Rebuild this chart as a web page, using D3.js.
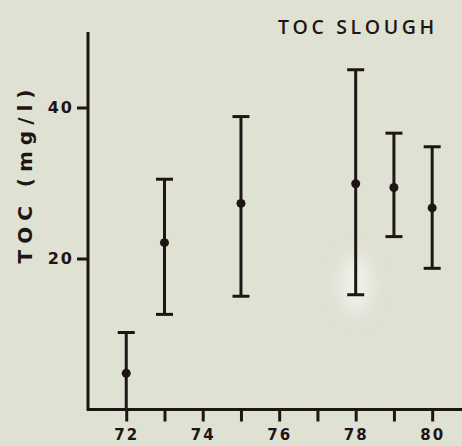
<!DOCTYPE html>
<html>
<head>
<meta charset="utf-8">
<script src="https://cdn.jsdelivr.net/npm/d3@7/dist/d3.min.js"></script>
<style>
  html, body { margin: 0; padding: 0; background: #dfe1d3; }
  svg { display: block; }
  text { font-family: "DejaVu Sans", sans-serif; fill: #1e1515; }
</style>
</head>
<body>
<svg id="chart" width="462" height="446"></svg>
<script>
// TOC at the slough, by year: mean with low/high range
const years = [72, 73, 75, 78, 79, 80];
const means = [4.8, 22.1, 27.3, 29.9, 29.4, 26.7];
const lows  = [0.0, 12.6, 15.0, 15.2, 22.9, 18.7];
const highs = [10.2, 30.5, 38.8, 45.0, 36.6, 34.8];

const xTicks = [72, 73, 74, 75, 76, 77, 78, 79, 80];
const xLabels = [72, 74, 76, 78, 80];
const yTicks = [20, 40];

const ink = "#1e1515";
const svg = d3.select("#chart");

const x = d3.scaleLinear().domain([71, 80.78]).range([88, 462]);
const y = d3.scaleLinear().domain([0, 50]).range([409.5, 32]);

// soft light patch on the paper near the 1978 bar
const defs = svg.append("defs");
defs.append("filter").attr("id", "soft")
  .attr("x", "-50%").attr("y", "-50%").attr("width", "200%").attr("height", "200%")
  .append("feGaussianBlur").attr("stdDeviation", 8);
svg.append("ellipse")
  .attr("cx", x(78)).attr("cy", y(16.5)).attr("rx", 16).attr("ry", 30)
  .attr("fill", "#f2f3ec").attr("opacity", 0.85).attr("filter", "url(#soft)");

// axes
const xAxis = d3.axisBottom(x).tickValues(xTicks).tickSize(12).tickPadding(4)
  .tickFormat(d => xLabels.includes(d) ? d : "");
const gx = svg.append("g").attr("transform", `translate(0,${y(0)})`).call(xAxis);
gx.select(".domain").attr("d", `M${x.range()[0]},0H${x.range()[1] + 2}`)
  .attr("stroke", ink).attr("stroke-width", 3);
gx.selectAll(".tick line").attr("stroke", ink).attr("stroke-width", 3);
gx.selectAll(".tick text").attr("font-size", 15).attr("font-weight", "bold")
  .attr("letter-spacing", 2).attr("dy", "0.95em").style("fill", ink);

const yAxis = d3.axisLeft(y).tickValues(yTicks).tickSize(11).tickPadding(3);
const gy = svg.append("g").attr("transform", `translate(${x(71)},0)`).call(yAxis);
gy.select(".domain").attr("d", `M0,${y.range()[1]}V${y.range()[0] + 1.5}`)
  .attr("stroke", ink).attr("stroke-width", 3);
gy.selectAll(".tick line").attr("stroke", ink).attr("stroke-width", 3);
gy.selectAll(".tick text").attr("font-size", 16).attr("font-weight", "bold")
  .attr("letter-spacing", 2).style("fill", ink);

// error bars
const rows = years.map((yr, i) => ({ yr, m: means[i], lo: lows[i], hi: highs[i] }));
const bars = svg.append("g").selectAll("g").data(rows).join("g");
bars.append("line")
  .attr("x1", d => x(d.yr)).attr("x2", d => x(d.yr))
  .attr("y1", d => y(d.lo)).attr("y2", d => y(d.hi))
  .attr("stroke", ink).attr("stroke-width", 3);
const capW = 8.5;
bars.append("line")
  .attr("x1", d => x(d.yr) - capW).attr("x2", d => x(d.yr) + capW)
  .attr("y1", d => y(d.hi)).attr("y2", d => y(d.hi))
  .attr("stroke", ink).attr("stroke-width", 3);
bars.append("line")
  .attr("x1", d => x(d.yr) - capW).attr("x2", d => x(d.yr) + capW)
  .attr("y1", d => y(d.lo)).attr("y2", d => y(d.lo))
  .attr("stroke", ink).attr("stroke-width", 3);
bars.append("circle")
  .attr("cx", d => x(d.yr)).attr("cy", d => y(d.m)).attr("r", 4.5)
  .attr("fill", ink);

// title
svg.append("text")
  .attr("x", 278).attr("y", 34)
  .style("font-family", "'Open Sans', 'DejaVu Sans', sans-serif")
  .attr("font-size", 19.5).attr("font-weight", 600).attr("letter-spacing", 3.6)
  .text("TOC  SLOUGH");

// y axis title
svg.append("text")
  .attr("transform", `translate(32,${(87 + 260) / 2}) rotate(-90)`)
  .attr("text-anchor", "middle")
  .attr("font-size", 20).attr("font-weight", "bold").attr("letter-spacing", 6)
  .text("TOC (mg/l)");
</script>
</body>
</html>
